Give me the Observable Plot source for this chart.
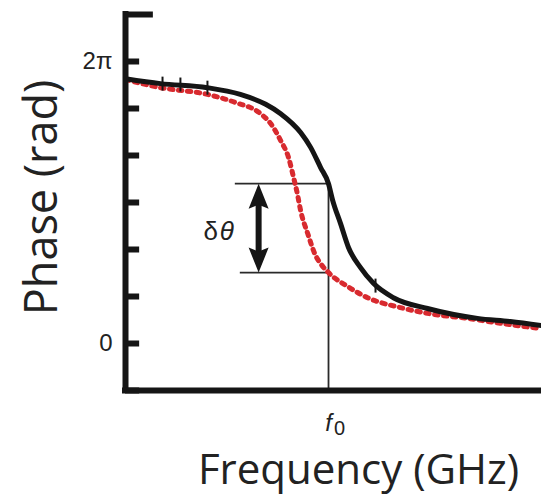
<!DOCTYPE html>
<html>
<head>
<meta charset="utf-8">
<script src="https://cdn.jsdelivr.net/npm/d3@7"></script>
<script src="https://cdn.jsdelivr.net/npm/@observablehq/plot@0.6"></script>
<style>
  html, body { margin: 0; padding: 0; background: #fff; }
  svg { display: block; }
</style>
</head>
<body>
<div id="chart"></div>
<script>
// ---- data (frequency in arbitrary GHz units, phase in rad) ----
const blackX = [0, 0.84, 1.97, 2.76, 3.37, 3.73, 4.21, 4.45, 4.69, 4.88, 4.98, 5.17, 5.36, 5.65, 5.96, 6.44, 7.26, 8.46, 9.25, 10];
const blackY = [5.90, 5.79, 5.70, 5.55, 5.33, 5.12, 4.70, 4.37, 3.92, 3.56, 3.19, 2.67, 2.14, 1.69, 1.34, 1.02, 0.78, 0.56, 0.49, 0.40];
const redX = [0, 0.84, 1.97, 2.64, 3.25, 3.49, 3.73, 3.92, 4.04, 4.13, 4.21, 4.38, 4.57, 4.69, 4.88, 5.34, 5.82, 6.61, 7.40, 8.22, 9.01, 10];
const redY = [5.88, 5.70, 5.55, 5.37, 5.12, 4.90, 4.52, 4.14, 3.70, 3.34, 2.96, 2.45, 1.96, 1.78, 1.58, 1.27, 1.02, 0.80, 0.65, 0.56, 0.45, 0.33];
const markerX = [0.89, 1.32, 1.97, 6.01];
const markerY = [5.79, 5.77, 5.70, 1.29];
const f0 = 4.88;
const phaseHigh = 3.56;   // black curve at f0
const phaseLow = 1.58;    // red curve at f0
const yTicks = [-Math.PI/3, 0, Math.PI/3, 2*Math.PI/3, Math.PI, 4*Math.PI/3, 5*Math.PI/3, 2*Math.PI];
const yTickLabels = [{v: 0, t: "0"}, {v: 2*Math.PI, t: "2π"}];
const yTop = 7*Math.PI/3;
const yBottom = -Math.PI/3;
const arrowX = 3.2;
const topLineStart = 2.64;
const botLineStart = 2.76;
const deltaLabelX = 2.24;
const deltaLabelY = 2.50;

const black = blackX.map((x, i) => ({x, y: blackY[i]}));
const red = redX.map((x, i) => ({x, y: redY[i]}));
const markers = markerX.map((x, i) => ({x, y: markerY[i]}));

const ink = "#151515";
const redColor = "#d82a2f";
const sans = "'Open Sans', 'Noto Sans', sans-serif";
const arial = "'Liberation Sans', Arial, sans-serif";

const headUp = {draw(ctx) { ctx.moveTo(0, 0); ctx.lineTo(10, 25); ctx.lineTo(0, 21); ctx.lineTo(-10, 25); ctx.closePath(); }};
const notch = {draw(ctx) { ctx.moveTo(-1, -7); ctx.lineTo(1, -7); ctx.lineTo(1, 7); ctx.lineTo(-1, 7); ctx.closePath(); }};

const chart = Plot.plot({
  width: 541,
  height: 495,
  marginLeft: 125,
  marginRight: 0,
  marginTop: 14,
  marginBottom: 105,
  x: {domain: [0, 10], axis: null},
  y: {domain: [yBottom, yTop], axis: null},
  style: {background: "#fff", overflow: "visible"},
  marks: [
    // annotation guide lines
    Plot.ruleX([f0], {y1: phaseHigh, y2: yBottom, stroke: "#2a2a2a", strokeWidth: 1.8}),
    Plot.ruleY([phaseHigh], {x1: topLineStart, x2: f0, stroke: "#2a2a2a", strokeWidth: 1.8}),
    Plot.ruleY([phaseLow], {x1: botLineStart, x2: f0, stroke: "#2a2a2a", strokeWidth: 1.8}),
    // double arrow
    Plot.ruleX([arrowX], {y1: phaseHigh - 0.3, y2: phaseLow + 0.3, stroke: ink, strokeWidth: 6}),
    Plot.dot([{x: arrowX, y: phaseHigh}], {x: "x", y: "y", symbol: headUp, fill: ink, stroke: "none"}),
    Plot.dot([{x: arrowX, y: phaseLow}], {x: "x", y: "y", symbol: headUp, rotate: 180, fill: ink, stroke: "none"}),
    // δθ label
    Plot.text([{x: deltaLabelX, y: deltaLabelY}], {x: "x", y: "y", text: () => "δ", dx: -8, fontSize: 26, fontFamily: arial, fill: "#222"}),
    Plot.text([{x: deltaLabelX, y: deltaLabelY}], {x: "x", y: "y", text: () => "θ", dx: 8, fontSize: 26, fontStyle: "italic", fontFamily: arial, fill: "#222"}),
    // curves
    Plot.line(red, {x: "x", y: "y", curve: "monotone-x", stroke: redColor, strokeWidth: 5, strokeDasharray: "3.5,5.5"}),
    Plot.line(black, {x: "x", y: "y", curve: "monotone-x", stroke: ink, strokeWidth: 5}),
    Plot.dot(markers, {x: "x", y: "y", symbol: notch, fill: ink, stroke: "none"}),
    // axes frame
    Plot.ruleX([0], {y1: yBottom, y2: yTop, stroke: ink, strokeWidth: 6, strokeLinecap: "square"}),
    Plot.ruleY([yBottom], {x1: 0, x2: 10, stroke: ink, strokeWidth: 6, strokeLinecap: "square"}),
    Plot.ruleY([yTop], {x1: 0, x2: 0.67, stroke: ink, strokeWidth: 6}),
    Plot.ruleY(yTicks, {x1: 0, x2: 0.34, stroke: ink, strokeWidth: 6}),
    // tick labels
    Plot.text(yTickLabels, {x: 0, y: "v", text: "t", dx: -13, textAnchor: "end", fontSize: 24, fontFamily: arial, fill: "#222"}),
    Plot.text([f0], {x: d => d, y: yBottom, text: () => "f", dy: 33, fontSize: 24, fontStyle: "italic", fontFamily: arial, fill: "#222"}),
    Plot.text([f0], {x: d => d, y: yBottom, text: () => "0", dx: 11, dy: 38, fontSize: 20, fontFamily: arial, fill: "#222"}),
    // axis titles
    Plot.text(["Phase (rad)"], {frameAnchor: "left", text: d => d, rotate: -90, textAnchor: "middle", lineAnchor: "middle", dx: -83, dy: -5, fontSize: 45, fontFamily: sans, fill: "#222"}),
    Plot.text(["Frequency (GHz)"], {frameAnchor: "bottom", text: d => d, lineAnchor: "middle", dx: 25, dy: 80, fontSize: 42, fontFamily: sans, fill: "#222"})
  ]
});
document.getElementById("chart").appendChild(chart);
</script>
</body>
</html>
